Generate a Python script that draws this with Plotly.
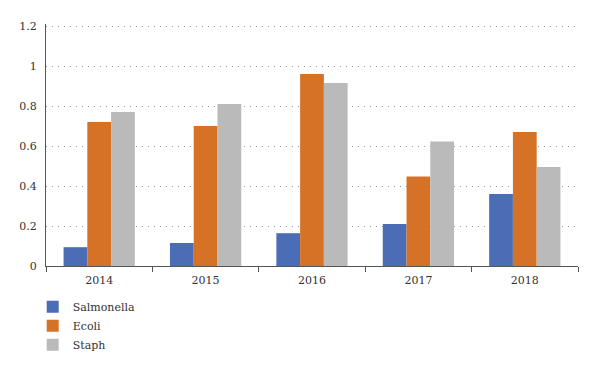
import plotly.graph_objects as go

years = ["2014", "2015", "2016", "2017", "2018"]
salmonella = [0.094, 0.115, 0.164, 0.21, 0.36]
ecoli = [0.72, 0.70, 0.96, 0.447, 0.67]
staph = [0.77, 0.81, 0.915, 0.623, 0.495]
y_ticks = [0, 0.2, 0.4, 0.6, 0.8, 1, 1.2]
y_tick_labels = ["0", "0.2", "0.4", "0.6", "0.8", "1", "1.2"]

font = "DejaVu Serif"

fig = go.Figure()
fig.add_trace(go.Bar(name="Salmonella", x=years, y=salmonella, marker_color="#4A6DB5", marker_line_width=0))
fig.add_trace(go.Bar(name="Ecoli", x=years, y=ecoli, marker_color="#D57226", marker_line_width=0))
fig.add_trace(go.Bar(name="Staph", x=years, y=staph, marker_color="#BABABA", marker_line_width=0))

fig.update_layout(
    width=592, height=362,
    margin=dict(l=38, r=22, t=16, b=104, autoexpand=False),
    paper_bgcolor="white", plot_bgcolor="white",
    barmode="group", bargap=0.33, bargroupgap=0,
    font=dict(family=font, size=11, color="#333333"),
    showlegend=True,
    legend=dict(
        orientation="v", x=-0.025, xanchor="left",
        yref="container", y=0.215, yanchor="top",
        font=dict(family=font, size=11, color="#333333"),
        bgcolor="rgba(0,0,0,0)", tracegroupgap=0,
    ),
    xaxis=dict(
        type="category", showline=True, linecolor="#555555", linewidth=1,
        ticks="outside", tickson="boundaries", ticklen=5, tickcolor="#555555",
        showgrid=False, ticklabelstandoff=4,
        tickfont=dict(family=font, size=11, color="#333333"),
    ),
    yaxis=dict(
        range=[0, 1.21], tickvals=y_ticks, ticktext=y_tick_labels,
        showline=True, linecolor="#555555", linewidth=1,
        showgrid=True, gridcolor="#999999", griddash="1px,5px", gridwidth=1,
        zeroline=False, ticks="", ticklabelstandoff=6,
        tickfont=dict(family=font, size=11, color="#333333"),
    ),
)

fig.write_html("out.html")
